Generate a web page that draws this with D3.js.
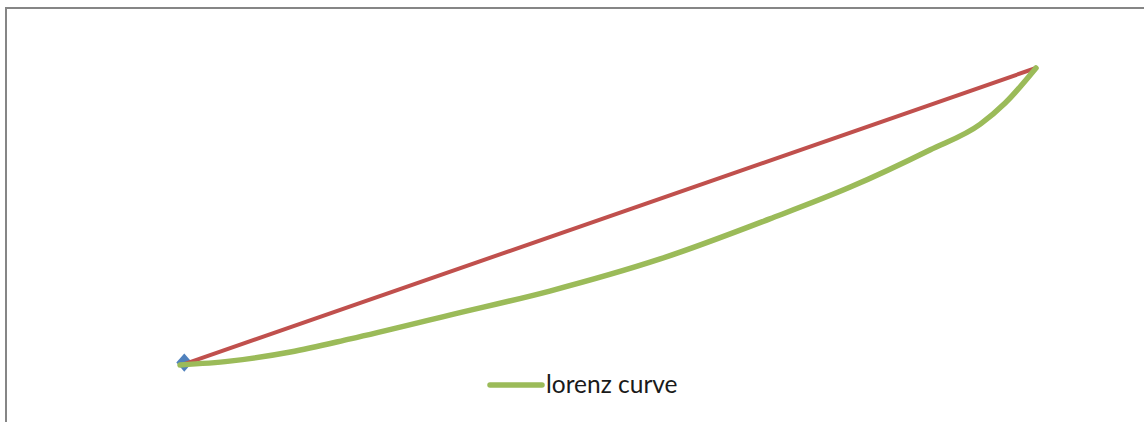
<!DOCTYPE html>
<html>
<head>
<meta charset="utf-8">
<script src="https://cdn.jsdelivr.net/npm/d3@7"></script>
<style>
  html, body { margin: 0; padding: 0; background: #fff; }
  svg { display: block; }
</style>
</head>
<body>
<svg id="chart" width="1144" height="422"></svg>
<script>
// Cumulative population share (x) and cumulative income share (y)
const lorenzX = [0, 0.058, 0.129, 0.199, 0.315, 0.432, 0.561, 0.689, 0.783, 0.876, 0.935, 0.964, 1];
const lorenzY = [0, 0.013, 0.044, 0.088, 0.168, 0.249, 0.357, 0.492, 0.599, 0.724, 0.811, 0.882, 1];
// Line of perfect equality
const equalityX = [0.005, 1];
const equalityY = [0.003, 1];
// Origin marker
const originX = [0.005];
const originY = [0.008];
const legendLabels = ["lorenz curve"];

const svg = d3.select("#chart");

// Chart area frame
svg.append("rect")
  .attr("x", 6).attr("y", 8)
  .attr("width", 1150).attr("height", 430)
  .attr("fill", "#fff")
  .attr("stroke", "#868686")
  .attr("stroke-width", 2);

const x = d3.scaleLinear().domain([0, 1]).range([180, 1036]);
const y = d3.scaleLinear().domain([0, 1]).range([365, 68]);

const lorenz = lorenzX.map((v, i) => [v, lorenzY[i]]);
const equality = equalityX.map((v, i) => [v, equalityY[i]]);

const line = d3.line()
  .x(d => x(d[0]))
  .y(d => y(d[1]));

// Origin diamond
svg.selectAll("path.marker")
  .data(originX.map((v, i) => [v, originY[i]]))
  .join("path")
  .attr("class", "marker")
  .attr("d", d3.symbol().type(d3.symbolDiamond2).size(162))
  .attr("transform", d => `translate(${x(d[0])},${y(d[1])}) scale(1,1.15)`)
  .attr("fill", "#4F81BD");

// Equality line
svg.append("path")
  .datum(equality)
  .attr("d", line)
  .attr("fill", "none")
  .attr("stroke", "#C0504D")
  .attr("stroke-width", 4);

// Lorenz curve
svg.append("path")
  .datum(lorenz)
  .attr("d", line.curve(d3.curveMonotoneX))
  .attr("fill", "none")
  .attr("stroke", "#9BBB59")
  .attr("stroke-width", 5.5)
  .attr("stroke-linecap", "round")
  .attr("stroke-linejoin", "round");

// Legend
const legend = svg.append("g").attr("transform", "translate(490,385)");
legend.append("line")
  .attr("x1", 0).attr("x2", 52)
  .attr("y1", 0).attr("y2", 0)
  .attr("stroke", "#9BBB59")
  .attr("stroke-width", 5.5)
  .attr("stroke-linecap", "round");
legend.append("text")
  .attr("x", 56).attr("y", 8)
  .attr("font-family", "Lato, 'Open Sans', sans-serif")
  .attr("font-size", 24.5)
  .attr("fill", "#1a1a1a")
  .text(legendLabels[0]);
</script>
</body>
</html>
